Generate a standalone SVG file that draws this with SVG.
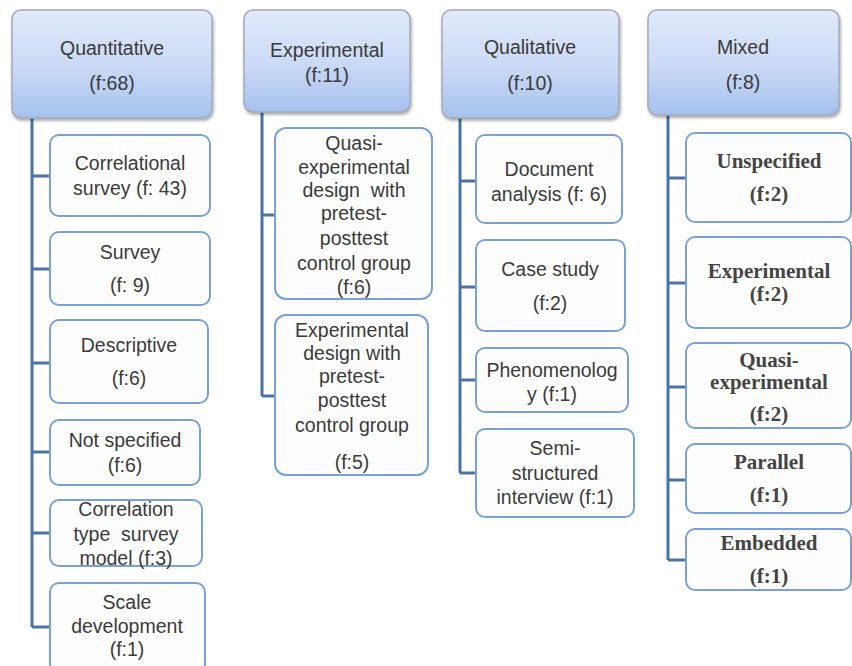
<svg xmlns="http://www.w3.org/2000/svg" width="852" height="666" viewBox="0 0 852 666">
<defs>
<linearGradient id="hg" x1="0" y1="0" x2="0" y2="1">
<stop offset="0" stop-color="#e2eafa"/>
<stop offset="0.55" stop-color="#c9d9f5"/>
<stop offset="1" stop-color="#a6c1ee"/>
</linearGradient>
<filter id="sh" x="-10%" y="-10%" width="130%" height="130%">
<feDropShadow dx="1" dy="2" stdDeviation="1.5" flood-color="#000" flood-opacity="0.35"/>
</filter>
<style>
.hd{fill:url(#hg);stroke:#a3abb8;stroke-width:1.5;filter:url(#sh)}
.ch{fill:#fdfdfd;stroke:#79a1d4;stroke-width:2}
.t{font-family:"Liberation Sans",Arial,sans-serif;font-size:19.5px;fill:#3a3a3a;text-anchor:middle;dominant-baseline:central;white-space:pre}
.s{font-family:"Liberation Serif","Times New Roman",serif;font-size:21px;font-weight:bold;fill:#444;text-anchor:middle;dominant-baseline:central}
.ln{stroke:#4a72a6;stroke-width:3;fill:none}
</style>
</defs>
<rect width="852" height="666" fill="#ffffff"/>

<g id="connectors">
<path class="ln" d="M32,118 V627 M32,176 H50 M32,269 H50 M32,363 H50 M32,452 H50 M32,533 H50 M32,627 H50"/>
<path class="ln" d="M262,112 V396 M262,215 H275 M262,396 H275"/>
<path class="ln" d="M460,118 V473 M460,181 H476 M460,287 H476 M460,380 H476 M460,473 H476"/>
<path class="ln" d="M668,115 V560 M668,178 H686 M668,283 H686 M668,387 H686 M668,480 H686 M668,560 H686"/>
</g>

<!-- Quantitative -->
<g id="quantitative">
<rect class="hd" x="12" y="10" width="200" height="108" rx="9"/>
<text class="t" x="112" y="48">Quantitative</text>
<text class="t" x="112" y="83">(f:68)</text>
</g>
<g id="q-correlational">
<rect class="ch" x="50" y="135" width="160" height="81" rx="9"/>
<text class="t" x="130" y="163">Correlational</text>
<text class="t" x="130" y="188">survey (f: 43)</text>
</g>
<g id="q-survey">
<rect class="ch" x="50" y="232" width="160" height="73" rx="9"/>
<text class="t" x="130" y="252">Survey</text>
<text class="t" x="130" y="285">(f: 9)</text>
</g>
<g id="q-descriptive">
<rect class="ch" x="50" y="320" width="158" height="83" rx="9"/>
<text class="t" x="129" y="345">Descriptive</text>
<text class="t" x="129" y="378">(f:6)</text>
</g>
<g id="q-notspecified">
<rect class="ch" x="50" y="420" width="150" height="65" rx="9"/>
<text class="t" x="125" y="440">Not specified</text>
<text class="t" x="125" y="465">(f:6)</text>
</g>
<g id="q-correlationtype">
<rect class="ch" x="50" y="500" width="152" height="66" rx="9"/>
<text class="t" x="126" y="509">Correlation</text>
<text class="t" x="126" y="534">type  survey</text>
<text class="t" x="126" y="558">model (f:3)</text>
</g>
<g id="q-scale">
<rect class="ch" x="50" y="583" width="155" height="90" rx="9"/>
<text class="t" x="127" y="602">Scale</text>
<text class="t" x="127" y="626">development</text>
<text class="t" x="127" y="649">(f:1)</text>
</g>

<!-- Experimental -->
<g id="experimental">
<rect class="hd" x="244" y="10" width="166" height="102" rx="9"/>
<text class="t" x="327" y="50">Experimental</text>
<text class="t" x="327" y="75">(f:11)</text>
</g>
<g id="e-quasi">
<rect class="ch" x="275" y="128" width="157" height="171" rx="11"/>
<text class="t" x="354" y="143">Quasi-</text>
<text class="t" x="354" y="167">experimental</text>
<text class="t" x="354" y="190">design  with</text>
<text class="t" x="354" y="213">pretest-</text>
<text class="t" x="354" y="238">posttest</text>
<text class="t" x="354" y="263">control group</text>
<text class="t" x="354" y="287">(f:6)</text>
</g>
<g id="e-experimental">
<rect class="ch" x="275" y="315" width="153" height="160" rx="11"/>
<text class="t" x="352" y="330">Experimental</text>
<text class="t" x="352" y="353">design with</text>
<text class="t" x="352" y="376">pretest-</text>
<text class="t" x="352" y="400">posttest</text>
<text class="t" x="352" y="425">control group</text>
<text class="t" x="352" y="462">(f:5)</text>
</g>

<!-- Qualitative -->
<g id="qualitative">
<rect class="hd" x="442" y="10" width="177" height="108" rx="9"/>
<text class="t" x="530" y="47">Qualitative</text>
<text class="t" x="530" y="83">(f:10)</text>
</g>
<g id="ql-document">
<rect class="ch" x="476" y="135" width="146" height="88" rx="9"/>
<text class="t" x="549" y="169">Document</text>
<text class="t" x="549" y="194">analysis (f: 6)</text>
</g>
<g id="ql-case">
<rect class="ch" x="476" y="240" width="149" height="91" rx="9"/>
<text class="t" x="550" y="269">Case study</text>
<text class="t" x="550" y="303">(f:2)</text>
</g>
<g id="ql-phenomenology">
<rect class="ch" x="476" y="348" width="152" height="64" rx="9"/>
<text class="t" x="552" y="370">Phenomenolog</text>
<text class="t" x="552" y="394">y (f:1)</text>
</g>
<g id="ql-semi">
<rect class="ch" x="476" y="429" width="158" height="88" rx="9"/>
<text class="t" x="555" y="448">Semi-</text>
<text class="t" x="555" y="473">structured</text>
<text class="t" x="555" y="497">interview (f:1)</text>
</g>

<!-- Mixed -->
<g id="mixed">
<rect class="hd" x="648" y="10" width="191" height="105" rx="9"/>
<text class="t" x="743" y="47">Mixed</text>
<text class="t" x="743" y="82">(f:8)</text>
</g>
<g id="m-unspecified">
<rect class="ch" x="686" y="133" width="165" height="89" rx="9"/>
<text class="s" x="769" y="161">Unspecified</text>
<text class="s" x="769" y="194">(f:2)</text>
</g>
<g id="m-experimental">
<rect class="ch" x="686" y="237" width="165" height="91" rx="9"/>
<text class="s" x="769" y="271">Experimental</text>
<text class="s" x="769" y="294">(f:2)</text>
</g>
<g id="m-quasi">
<rect class="ch" x="686" y="343" width="165" height="85" rx="9"/>
<text class="s" x="769" y="360">Quasi-</text>
<text class="s" x="769" y="382">experimental</text>
<text class="s" x="769" y="414">(f:2)</text>
</g>
<g id="m-parallel">
<rect class="ch" x="686" y="444" width="165" height="69" rx="9"/>
<text class="s" x="769" y="462">Parallel</text>
<text class="s" x="769" y="495">(f:1)</text>
</g>
<g id="m-embedded">
<rect class="ch" x="686" y="529" width="165" height="61" rx="9"/>
<text class="s" x="769" y="543">Embedded</text>
<text class="s" x="769" y="576">(f:1)</text>
</g>
</svg>
